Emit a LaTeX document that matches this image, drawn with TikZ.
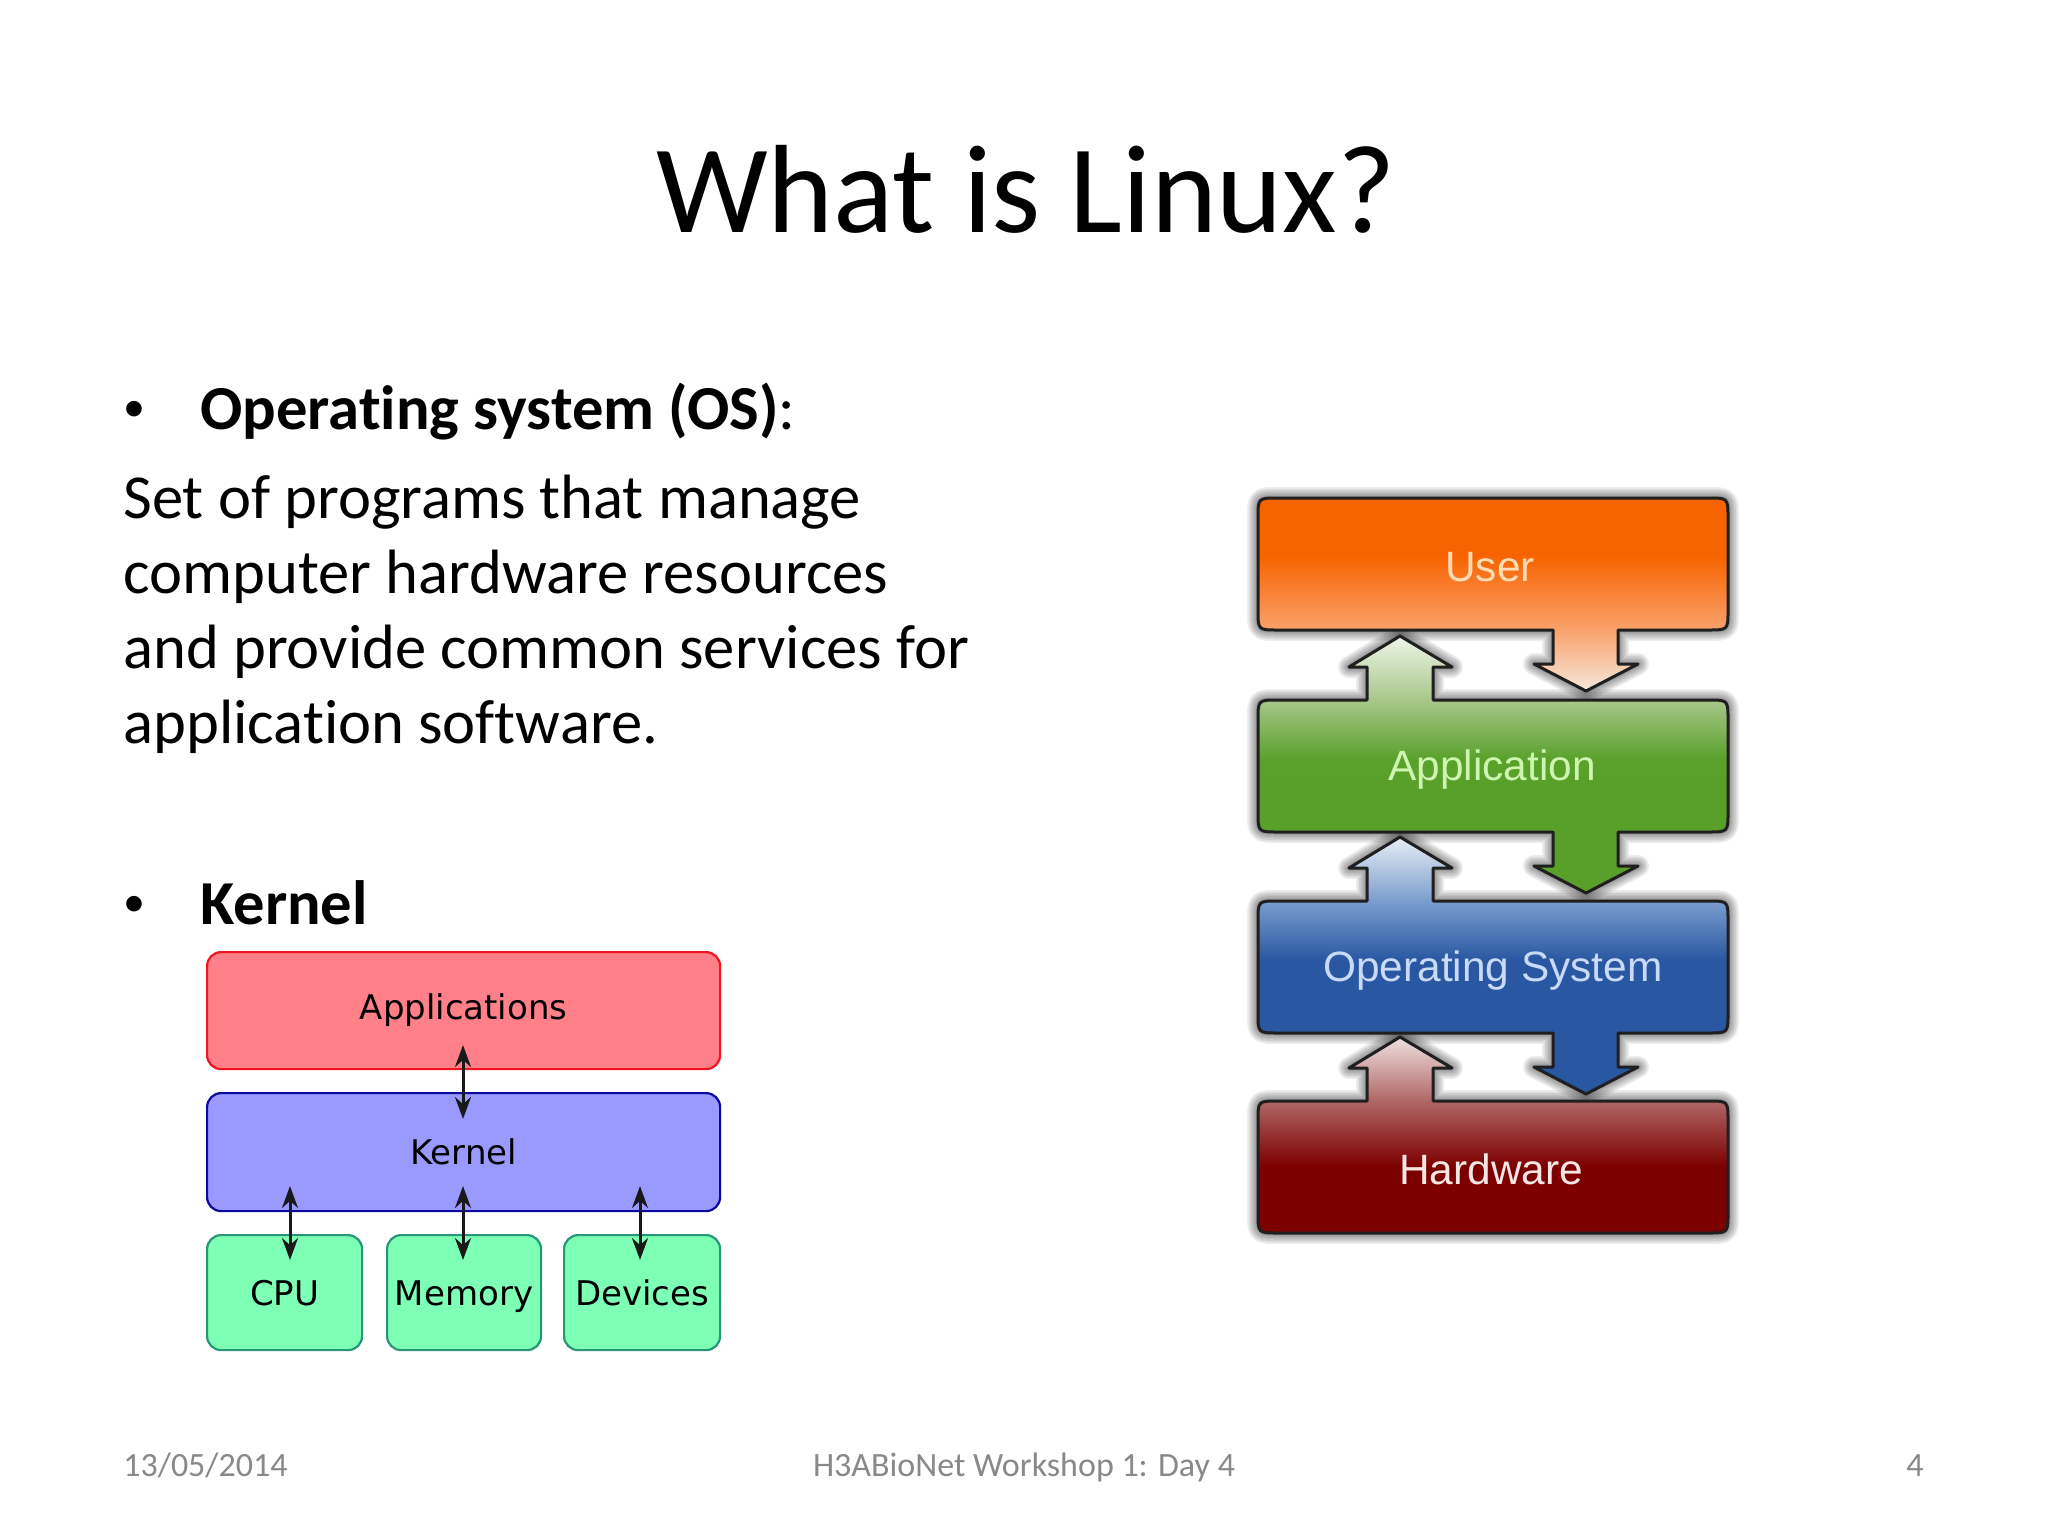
\documentclass[tikz,border=0pt]{standalone}
\usepackage{fontspec}
\setmainfont{Carlito}[Ligatures=CommonOff]
\newfontfamily\lsans{Liberation Sans}
\newfontfamily\dvsans{DejaVu Sans}
\usetikzlibrary{arrows.meta}
\definecolor{footgray}{HTML}{898989}
\pgfdeclareverticalshading{userfill}{100bp}{rgb(0bp)=(.96,.91,.86);rgb(25bp)=(.96,.91,.86);rgb(41bp)=(.98,.63,.42);rgb(60bp)=(.97,.39,0);rgb(100bp)=(.97,.39,0)}
\pgfdeclareverticalshading{appfill}{100bp}{rgb(0bp)=(.35,.62,.16);rgb(51bp)=(.35,.63,.17);rgb(62.6bp)=(.66,.78,.54);rgb(75bp)=(.93,.96,.91);rgb(100bp)=(.93,.96,.91)}
\pgfdeclareverticalshading{osfill}{100bp}{rgb(0bp)=(.16,.34,.63);rgb(51bp)=(.16,.34,.63);rgb(62.6bp)=(.48,.62,.81);rgb(75bp)=(.91,.93,.96);rgb(100bp)=(.91,.93,.96)}
\pgfdeclareverticalshading{hwfill}{100bp}{rgb(0bp)=(.49,0,0);rgb(42bp)=(.49,0,0);rgb(58.7bp)=(.69,.40,.40);rgb(75bp)=(.94,.88,.88);rgb(100bp)=(.94,.88,.88)}
\def\upbump{-- (1367,0) -- (1367,-33) -- (1349,-33) -- (1400,-64) -- (1452,-33) -- (1433,-33) -- (1433,0)}
\def\downbump{-- (1618,132) -- (1618,166) -- (1638,166) -- (1586,193) -- (1534,166) -- (1553,166) -- (1553,132)}
\newcommand\stackpath[2]{(1278,0) #1 -- (1708,0) .. controls (1728,0) .. (1728,20) -- (1728,112) .. controls (1728,132) .. (1708,132) #2 -- (1278,132) .. controls (1258,132) .. (1258,112) -- (1258,20) .. controls (1258,0) .. (1278,0) -- cycle}
\newcommand\softshadow[3]{\begin{scope}[shift={(0,#1)}]
\foreach \w in {22,19,16,13,10,7,5}{\draw[black,opacity=.065,line width=\w*.5pt,line join=round] \stackpath{#2}{#3};}
\end{scope}}
\newcommand\stackfill[4]{\begin{scope}[shift={(0,#1)}]
\path[shading=#4] \stackpath{#2}{#3};
\draw[black!88,line width=1.5pt,line join=round] \stackpath{#2}{#3};
\end{scope}}
\tikzset{
 slidetext/.style={anchor=base west,inner sep=0pt,font=\fontsize{31.3}{36}\selectfont},
 headtext/.style={anchor=base west,inner sep=0pt,font=\fontsize{31.3}{36}\selectfont\bfseries},
 bullettext/.style={anchor=base,inner sep=0pt,font=\fontsize{22}{26}\selectfont},
 foot/.style={anchor=base,inner sep=0pt,text=footgray,font=\fontsize{17}{20}\selectfont},
 layerlabel/.style={inner sep=0pt,font=\lsans\fontsize{21.2}{25}\selectfont},
 kbox/.style={rounded corners=7pt,line width=1.1pt,inner sep=0pt,text height=12.4pt,text depth=0pt,font=\dvsans\fontsize{17}{20}\selectfont},
 dblarrow/.style={{Stealth[length=11pt,width=8pt]}-{Stealth[length=11pt,width=8pt]},line width=1.5pt,black!90}
}
\begin{document}
\begin{tikzpicture}[x=.5pt,y=-.5pt]
\useasboundingbox (0,0) rectangle (2048,1536);
\fill[white] (0,0) rectangle (2048,1536);
\node[anchor=base,inner sep=0pt,font=\fontsize{62.8}{70}\selectfont] (title) at (1026,232) {What is Linux?};
\node[bullettext] (b1) at (134,421) {•};
\node[headtext] (h1) at (200,429) {Operating system (OS)\textmd{:}};
\node[slidetext] (l1) at (123,518) {Set of programs that manage};
\node[slidetext] (l2) at (123,593) {computer hardware resources};
\node[slidetext] (l3) at (123,668) {and provide common services for};
\node[slidetext] (l4) at (123,743) {application software.};
\node[bullettext] (b2) at (134,916) {•};
\node[headtext] (h2) at (200,924) {Kernel};
\node[foot,anchor=base west] (fd) at (123,1476) {13/05/2014};
\node[foot] (fc) at (1024,1476) {H3ABioNet Workshop 1: Day 4};
\node[foot,anchor=base east] (fn) at (1924,1476) {4};
% layered stack
\softshadow{498}{}{\downbump}
\softshadow{700}{\upbump}{\downbump}
\softshadow{901}{\upbump}{\downbump}
\softshadow{1101}{\upbump}{}
\stackfill{498}{}{\downbump}{userfill}
\stackfill{700}{\upbump}{\downbump}{appfill}
\stackfill{901}{\upbump}{\downbump}{osfill}
\stackfill{1101}{\upbump}{}{hwfill}
\node[layerlabel,text={rgb,255:red,255;green,220;blue,180}] (user) at (1490,567) {User};
\node[layerlabel,text={rgb,255:red,205;green,245;blue,175}] (app) at (1492,770) {Application};
\node[layerlabel,text={rgb,255:red,200;green,218;blue,245}] (os) at (1493,971) {Operating System};
\node[layerlabel,text={rgb,255:red,245;green,230;blue,230}] (hw) at (1491,1169) {Hardware};
% kernel diagram
\node[kbox,draw={rgb,255:red,240;green,20;blue,30},fill={rgb,255:red,255;green,128;blue,136},minimum width=256.5pt,minimum height=58.5pt,anchor=north west,text depth=4pt] (apps) at (206,951) {Applications};
\node[kbox,draw={rgb,255:red,10;green,10;blue,160},fill={rgb,255:red,153;green,153;blue,255},minimum width=256.5pt,minimum height=59pt,anchor=north west] (kern) at (206,1092) {Kernel};
\node[kbox,draw={rgb,255:red,40;green,150;blue,120},fill={rgb,255:red,125;green,255;blue,182},minimum width=77.5pt,minimum height=57.5pt,anchor=north west] (cpu) at (206,1234) {CPU};
\node[kbox,draw={rgb,255:red,40;green,150;blue,120},fill={rgb,255:red,125;green,255;blue,182},minimum width=77pt,minimum height=57.5pt,anchor=north west] (mem) at (386,1234) {Memory};
\node[kbox,draw={rgb,255:red,40;green,150;blue,120},fill={rgb,255:red,125;green,255;blue,182},minimum width=78pt,minimum height=57.5pt,anchor=north west] (dev) at (563,1234) {Devices};
\coordinate (a1) at (463,1045);
\coordinate (a2) at (463,1119);
\coordinate (c1) at (290,1186);
\coordinate (c2) at (290,1260);
\coordinate (m1) at (463,1186);
\coordinate (m2) at (463,1260);
\coordinate (d1) at (640,1186);
\coordinate (d2) at (640,1260);
\draw[dblarrow] (a1) -- (a2);
\draw[dblarrow] (c1) -- (c2);
\draw[dblarrow] (m1) -- (m2);
\draw[dblarrow] (d1) -- (d2);
\end{tikzpicture}
\end{document}
